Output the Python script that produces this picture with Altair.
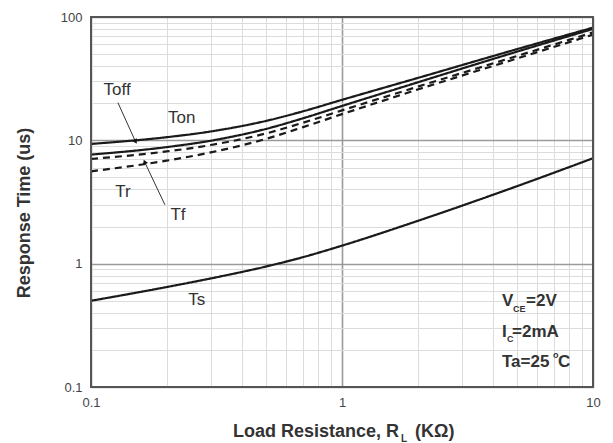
import altair as alt
import pandas as pd

# ---- data ----
load_res = [0.1, 0.2, 0.3, 0.5, 0.7, 1, 2, 5, 10]
toff = [9.35, 10.6, 11.8, 14.4, 17.2, 21.3, 32.0, 55.0, 82.0]
ton = [7.66, 8.81, 9.93, 12.4, 15.1, 19.0, 29.5, 52.5, 80.0]
tr = [7.06, 8.13, 9.16, 11.4, 13.9, 17.5, 27.2, 48.4, 75.0]
tf = [5.61, 6.84, 7.98, 10.3, 12.8, 16.3, 25.8, 46.2, 71.9]
ts = [0.50, 0.646, 0.759, 0.95, 1.13, 1.40, 2.22, 4.26, 7.16]

series_names = ["Toff", "Ton", "Tr", "Tf", "Ts"]
series_vals = [toff, ton, tr, tf, ts]
series_dash = [[1, 0], [1, 0], [7, 5], [7, 5], [1, 0]]

label_text = ["Toff", "Ton", "Tr", "Tf", "Ts"]
label_x = [0.127, 0.230, 0.134, 0.222, 0.264]
label_y = [25.8, 15.2, 3.84, 2.5, 0.51]

arrow_x = [0.128, 0.197]
arrow_y = [20.2, 3.0]
arrow_x2 = [0.150, 0.164]
arrow_y2 = [9.9, 6.6]
arrow_angle = [151, 338]

x_grid = [a * d for d in [0.1, 1] for a in range(1, 10)] + [10]
y_grid = [a * d for d in [0.1, 1, 10] for a in range(1, 10)] + [100]

W, H = 502, 370

rows = []
for name, vals in zip(series_names, series_vals):
    for xv, yv in zip(load_res, vals):
        rows.append({"series": name, "x": xv, "y": yv})
df = pd.DataFrame(rows)

labels_df = pd.DataFrame({"t": label_text, "x": label_x, "y": label_y})
arrows_df = pd.DataFrame({"x": arrow_x, "y": arrow_y, "x2": arrow_x2, "y2": arrow_y2, "a": arrow_angle})

is_major = "abs(log(datum.value)/LN10 - round(log(datum.value)/LN10)) < 0.001"

def make_axis():
    return alt.Axis(
        title=None, ticks=False, domain=False, format="~g",
        labelExpr=f"({is_major}) ? datum.label : ''",
        labelFont="Liberation Sans", labelFontSize=13, labelColor="#444",
        labelPadding=9, labelFlush=False,
        gridColor={"condition": {"test": is_major, "value": "#9a9a9a"}, "value": "#dcdcdc"},
        gridWidth={"condition": {"test": is_major, "value": 1.6}, "value": 1},
    )

ax_x = make_axis()
ax_x.values = x_grid
ax_y = make_axis()
ax_y.values = y_grid

x_enc = alt.X("x:Q", scale=alt.Scale(type="log", domain=[0.1, 10]), axis=ax_x)
y_enc = alt.Y("y:Q", scale=alt.Scale(type="log", domain=[0.1, 100]), axis=ax_y)

lines = alt.Chart(df).mark_line(color="#1a1a1a", strokeWidth=2.2, interpolate="monotone").encode(
    x=x_enc, y=y_enc,
    strokeDash=alt.StrokeDash("series:N", scale=alt.Scale(domain=series_names, range=series_dash), legend=None),
    detail="series:N",
)

labels = alt.Chart(labels_df).mark_text(font="Liberation Sans", fontSize=17, color="#333").encode(
    x=x_enc, y=y_enc, text="t:N"
)

arrow_lines = alt.Chart(arrows_df).mark_rule(color="#333", strokeWidth=1).encode(
    x=x_enc, y=y_enc, x2="x2:Q", y2="y2:Q"
)
arrow_heads = alt.Chart(arrows_df).mark_point(shape="triangle", filled=True, size=30, color="#111", opacity=1).encode(
    x=alt.X("x2:Q", scale=alt.Scale(type="log", domain=[0.1, 10])),
    y=alt.Y("y2:Q", scale=alt.Scale(type="log", domain=[0.1, 100])),
    angle=alt.Angle("a:Q", scale=None),
)

one = alt.Data(values=[{}])
frame = alt.Chart(one).mark_rect(filled=False, stroke="#555", strokeWidth=2).encode(
    x=alt.value(0), x2=alt.value(W), y=alt.value(0), y2=alt.value(H)
)

def txt(s, x, y, size, weight="bold", angle=0, align="left", baseline="alphabetic"):
    return alt.Chart(one).mark_text(
        text=s, font="Liberation Sans", fontSize=size, fontWeight=weight, color="#333",
        align=align, baseline=baseline, angle=angle,
    ).encode(x=alt.value(x), y=alt.value(y))

notes = [
    txt("V", 411, 289, 17),
    txt("CE", 422, 295, 9),
    txt("=2V", 435, 289, 17),
    txt("I", 411, 320, 17),
    txt("C", 416, 325, 9),
    txt("=2mA", 421, 320, 17),
    txt("Ta=25", 411, 350, 17),
    txt("o", 462, 341, 9),
    txt("C", 467, 350, 17),
    txt("Response Time (us)", -66, 196, 18, angle=270, align="center", baseline="middle"),
    txt("Load Resistance, R", 142, 420, 18),
    txt("L", 310, 425, 10),
    txt("(K\u03a9)", 324, 420, 18),
]

chart = alt.layer(lines, arrow_lines, arrow_heads, labels, frame, *notes).properties(
    width=W, height=H,
    padding={"left": 83, "top": 9, "right": 12, "bottom": 56},
    autosize=alt.AutoSizeParams(type="none"),
    background="white",
).configure_view(stroke=None)

chart.save("out.html", embed_options={"renderer": "svg", "actions": False})
